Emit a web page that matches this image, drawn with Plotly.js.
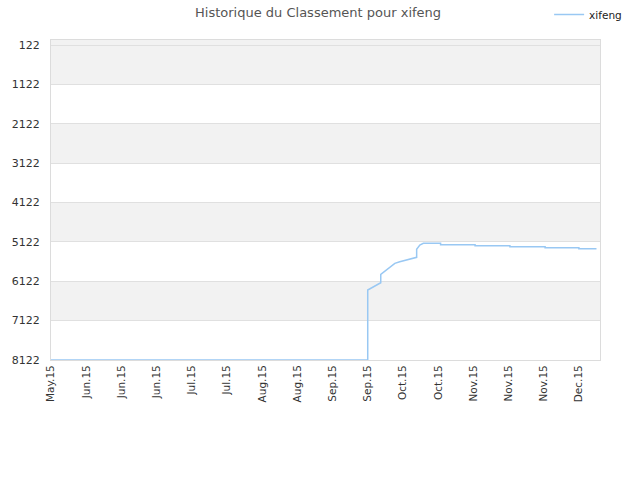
<!DOCTYPE html>
<html>
<head>
<meta charset="utf-8">
<script src="https://cdn.plot.ly/plotly-3.0.1.min.js"></script>
<style>html,body{margin:0;padding:0;background:#fff;}#chart{width:640px;height:480px;}</style>
</head>
<body>
<div id="chart"></div>
<script>
// Data (x in tick-index units, y = rank)
const seriesName = "xifeng";
const xPos = [0, 9.0, 9.0, 9.37, 9.37, 9.77, 9.91, 10.15, 10.39, 10.39, 10.48, 10.58, 11.07, 11.07, 12.05, 12.05, 13.04, 13.04, 14.04, 14.04, 15.0, 15.0, 15.5];
const ranks = [8122, 8122, 6345, 6160, 5947, 5667, 5625, 5565, 5514, 5310, 5202, 5160, 5160, 5193, 5193, 5220, 5220, 5245, 5245, 5270, 5270, 5295, 5295];
const tickLabels = ["May.15","Jun.15","Jun.15","Jun.15","Jul.15","Jul.15","Aug.15","Aug.15","Sep.15","Sep.15","Oct.15","Oct.15","Nov.15","Nov.15","Nov.15","Dec.15"];
const yTicks = [122, 1122, 2122, 3122, 4122, 5122, 6122, 7122, 8122];

const tickIdx = tickLabels.map((_, i) => i);
const yTop = -5, yBottom = 8122;

// alternating bands
const bandEdges = [yTop].concat(yTicks.slice(1));
const shapes = [];
for (let i = 0; i < bandEdges.length - 1; i++) {
  if (i % 2 === 0) {
    shapes.push({type:'rect', xref:'paper', yref:'y', x0:0, x1:1, y0:bandEdges[i], y1:bandEdges[i+1],
      fillcolor:'#f2f2f2', line:{width:0}, layer:'below'});
  }
}

const trace = {
  x: xPos, y: ranks, type: 'scatter', mode: 'lines', name: seriesName,
  line: {color: '#99c8f3', width: 1.5}
};

const layout = {
  width: 640, height: 480,
  margin: {l: 51, r: 40, t: 40, b: 120},
  paper_bgcolor: '#fff', plot_bgcolor: '#fff',
  font: {family: 'DejaVu Sans, Verdana, sans-serif', size: 11, color: '#333'},
  title: {text: 'Historique du Classement pour xifeng', x: 0.497, xanchor: 'center', y: 0.975, yanchor: 'middle',
    font: {family: 'DejaVu Sans, sans-serif', size: 13, color: '#555'}},
  showlegend: true,
  legend: {x: 0.858, xref: 'container', xanchor: 'left', y: 1.0, yanchor: 'top', yref: 'container', orientation: 'h',
    font: {size: 10.5, color: '#222'}, bgcolor: 'rgba(0,0,0,0)'},
  xaxis: {
    range: [0, 15.6], tickvals: tickIdx, ticktext: tickLabels, tickangle: -90,
    showgrid: false, zeroline: false, showline: true, linecolor: '#dcdcdc', mirror: true,
    ticks: '', tickfont: {size: 10.5, color: '#333'}
  },
  yaxis: {
    range: [yBottom, yTop], tickvals: yTicks, ticktext: yTicks.map(String),
    showgrid: true, gridcolor: '#e0e0e0', zeroline: false, showline: true, linecolor: '#dcdcdc', mirror: true,
    ticks: '', ticklabelstandoff: 8, tickfont: {size: 11, color: '#333'}
  },
  shapes: shapes
};

Plotly.newPlot('chart', [trace], layout, {displayModeBar: false, staticPlot: true});
</script>
</body>
</html>
